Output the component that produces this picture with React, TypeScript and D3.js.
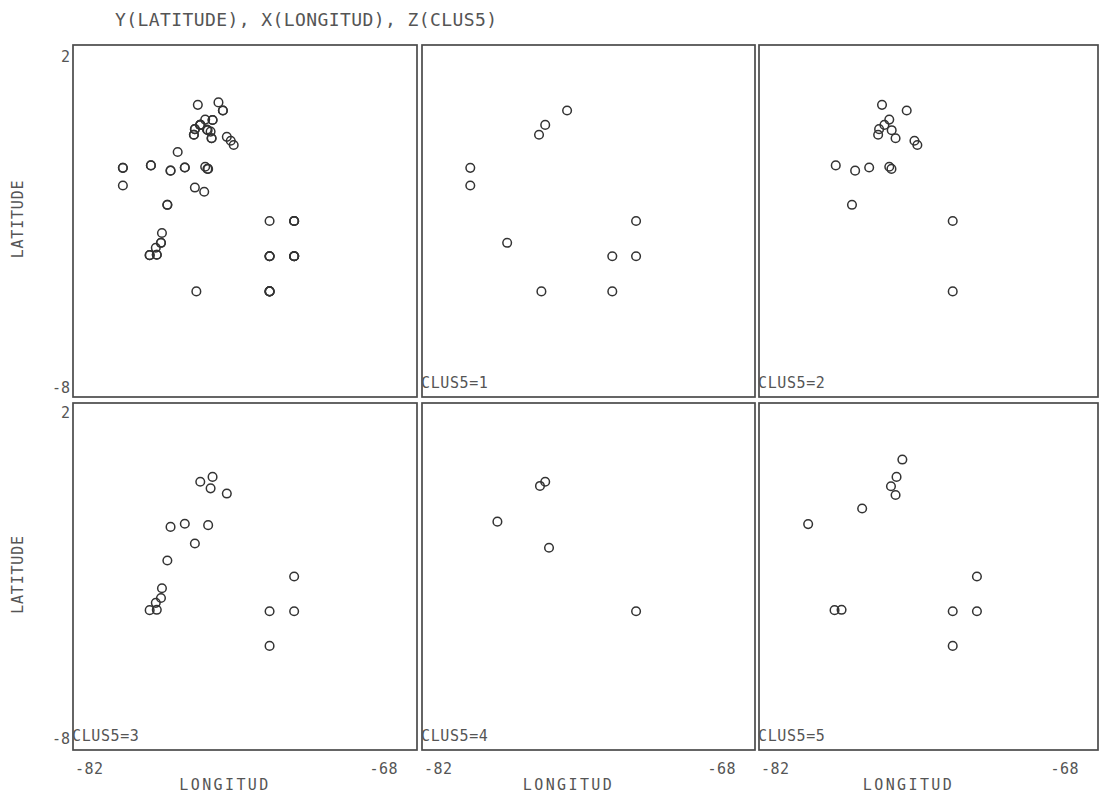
import React from "react";
import * as d3 from "d3";

// ---- Data (longitude, latitude) per cluster ----
const clus1Lon = [-75.9, -76.82, -77.08, -79.97, -79.97, -78.42, -73, -74, -73, -76.98, -74];
const clus1Lat = [0.14, -0.27, -0.55, -1.49, -1.99, -3.62, -3, -4, -4, -5.0, -5];

const clus2Lon = [-76.92, -75.9, -76.62, -76.82, -77.04, -77.08, -76.52, -76.36, -75.58, -75.46, -78.83, -78.03, -77.45, -76.62, -76.53, -78.16, -74, -74];
const clus2Lat = [0.3, 0.14, -0.12, -0.27, -0.39, -0.55, -0.42, -0.65, -0.72, -0.84, -1.42, -1.57, -1.48, -1.46, -1.52, -2.54, -3, -5];

const clus3Lon = [-76.32, -76.82, -76.4, -75.74, -78.03, -77.45, -76.5, -77.04, -78.16, -78.38, -78.42, -78.63, -78.88, -78.59, -73, -74, -73, -74];
const clus3Lat = [-0.13, -0.27, -0.46, -0.61, -1.57, -1.48, -1.52, -2.05, -2.54, -3.34, -3.62, -3.76, -3.97, -3.96, -3, -4, -4, -5];

const clus4Lon = [-76.82, -77.04, -78.83, -76.66, -73];
const clus4Lat = [-0.27, -0.39, -1.42, -2.17, -4];

const clus5Lon = [-76.08, -76.32, -76.55, -76.36, -77.74, -79.97, -78.88, -78.59, -73, -74, -73, -74];
const clus5Lat = [0.37, -0.13, -0.4, -0.65, -1.04, -1.49, -3.97, -3.96, -3, -4, -4, -5];

const clusterIds = [1, 2, 3, 4, 5];
const clusterLon = [clus1Lon, clus2Lon, clus3Lon, clus4Lon, clus5Lon];
const clusterLat = [clus1Lat, clus2Lat, clus3Lat, clus4Lat, clus5Lat];

const xDomain = [-82, -68];
const yDomain = [-8, 2];
const xTickLabels = ["-82", "-68"];
const yTickLabels = ["2", "-8"];

const titleText = "Y(LATITUDE), X(LONGITUD), Z(CLUS5)";
const xAxisTitle = "LONGITUD";
const yAxisTitle = "LATITUDE";
const panelLabelPrefix = "CLUS5=";

// ---- Layout ----
const W = 1111;
const H = 801;
const cols = [
  [73, 417],
  [422, 755],
  [759, 1098],
];
const rows = [
  [45, 397],
  [403, 750],
];

const ink = "#333";
const textInk = "#555";
const font = "'DejaVu Sans Mono', monospace";

type Pt = { lon: number; lat: number };

function pointsOf(i: number): Pt[] {
  return clusterLon[i].map((lon, j) => ({ lon, lat: clusterLat[i][j] }));
}

const allPoints: Pt[] = clusterIds.flatMap((_, i) => pointsOf(i));

const panels = [
  { pts: allPoints, label: null as string | null },
  ...clusterIds.map((id, i) => ({ pts: pointsOf(i), label: panelLabelPrefix + id })),
];

export default function App() {
  return (
    <svg
      width={W}
      height={H}
      viewBox={`0 0 ${W} ${H}`}
      style={{ position: "absolute", left: 0, top: 0, background: "#fff" }}
    >
      <rect x={0} y={0} width={W} height={H} fill="#fff" />
      <text
        x={115}
        y={26}
        fontFamily={font}
        fontSize={18}
        fill={textInk}
        textLength={382}
        lengthAdjust="spacing"
      >
        {titleText}
      </text>
      {panels.map((p, k) => {
        const c = k % 3;
        const r = Math.floor(k / 3);
        const [x0, x1] = cols[c];
        const [y0, y1] = rows[r];
        const xs = d3.scaleLinear().domain(xDomain).range([x0, x1]);
        const ys = d3.scaleLinear().domain(yDomain).range([y1, y0]);
        return (
          <g key={k}>
            <rect
              x={x0}
              y={y0}
              width={x1 - x0}
              height={y1 - y0}
              fill="none"
              stroke="#4a4a4a"
              strokeWidth={1.7}
            />
            {p.pts.map((d, j) => (
              <circle
                key={j}
                cx={xs(d.lon)}
                cy={ys(d.lat)}
                r={4.3}
                fill="none"
                stroke={ink}
                strokeWidth={1.5}
              />
            ))}
            {p.label && (
              <text
                x={x0 - 1}
                y={y1 - 9}
                fontFamily={font}
                fontSize={15}
                letterSpacing={0.6}
                fill={textInk}
              >
                {p.label}
              </text>
            )}
            {c === 0 && (
              <>
                <text
                  x={x0 - 3}
                  y={r === 0 ? y0 + 17 : y0 + 15}
                  textAnchor="end"
                  fontFamily={font}
                  fontSize={15}
                  fill={textInk}
                >
                  {yTickLabels[0]}
                </text>
                <text
                  x={x0 - 3}
                  y={r === 0 ? y1 - 4 : y1 - 6}
                  textAnchor="end"
                  fontFamily={font}
                  fontSize={15}
                  fill={textInk}
                >
                  {yTickLabels[1]}
                </text>
                <text
                  transform={`translate(23, ${(y0 + y1) / 2 - 2}) rotate(-90)`}
                  textAnchor="middle"
                  fontFamily={font}
                  fontSize={15}
                  letterSpacing={0.8}
                  fill={textInk}
                >
                  {yAxisTitle}
                </text>
              </>
            )}
            {r === 1 && (
              <>
                <text
                  x={xs(xDomain[0]) + 2}
                  y={y1 + 24}
                  fontFamily={font}
                  fontSize={15}
                  letterSpacing={0.5}
                  fill={textInk}
                >
                  {xTickLabels[0]}
                </text>
                <text
                  x={xs(xDomain[1]) - 19}
                  y={y1 + 24}
                  textAnchor="end"
                  fontFamily={font}
                  fontSize={15}
                  letterSpacing={0.5}
                  fill={textInk}
                >
                  {xTickLabels[1]}
                </text>
                <text
                  x={(x0 + x1) / 2 - 20}
                  y={y1 + 40}
                  textAnchor="middle"
                  fontFamily={font}
                  fontSize={15}
                  letterSpacing={2.4}
                  fill={textInk}
                >
                  {xAxisTitle}
                </text>
              </>
            )}
          </g>
        );
      })}
    </svg>
  );
}
